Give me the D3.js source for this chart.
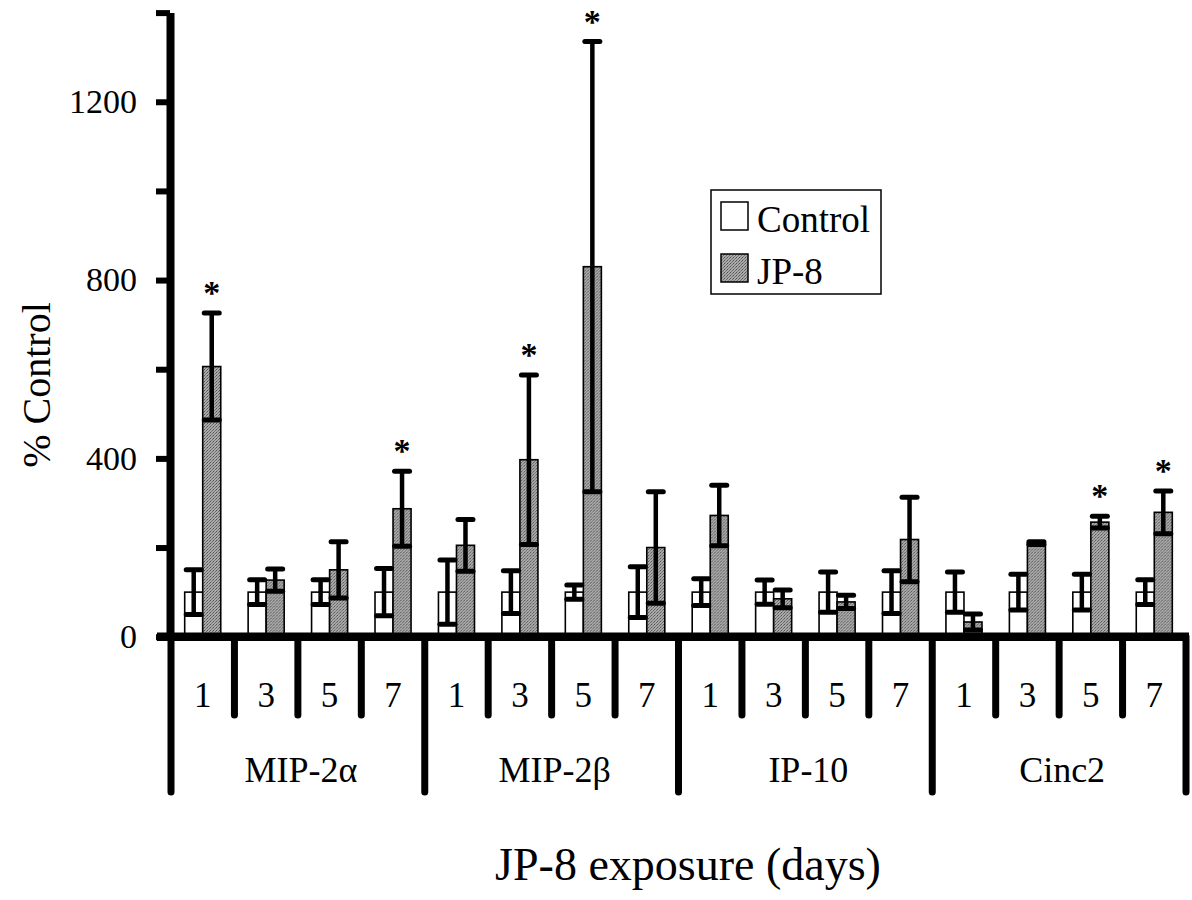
<!DOCTYPE html>
<html>
<head>
<meta charset="utf-8">
<script src="https://cdn.jsdelivr.net/npm/d3@7"></script>
<style>
  body { margin: 0; background: #fff; }
  text { font-family: "Liberation Serif", "Times New Roman", serif; fill: #000; }
</style>
</head>
<body>
<svg id="chart" width="1192" height="900"></svg>
<script>
// chemokine groups and exposure days
var groups = ['MIP-2\u03b1', 'MIP-2\u03b2', 'IP-10', 'Cinc2'];
var days = ['1', '3', '5', '7'];
var seriesNames = ['Control', 'JP-8'];

// % control (16 = 4 groups x 4 days)
var controlMean = [100, 100, 100, 100, 100, 100, 100, 100, 100, 100, 100, 100, 100, 100, 100, 100];
var controlErr  = [50, 28, 28, 53, 72, 48, 16, 57, 30, 27, 45, 48, 45, 40, 40, 28];
var jp8Mean     = [606, 127, 150, 287, 205, 397, 830, 200, 272, 85, 78, 218, 33, 210, 257, 279];
var jp8Err      = [120, 25, 63, 84, 58, 190, 505, 125, 68, 20, 15, 95, 18, 3, 13, 48];
var significant = [1, 0, 0, 1, 0, 1, 1, 0, 0, 0, 0, 0, 0, 0, 1, 1];

var yTicks = [0, 200, 400, 600, 800, 1000, 1200, 1400];

var svg = d3.select('#chart');

// build one row per cell
var cells = [];
groups.forEach(function (g, gi) {
	days.forEach(function (d, di) {
		var i = gi * days.length + di;
		cells.push({
			key: g + '|' + d, group: g, day: d, gi: gi, di: di,
			vals: [
				{ s: 'Control', mean: controlMean[i], err: controlErr[i] },
				{ s: 'JP-8', mean: jp8Mean[i], err: jp8Err[i] }
			],
			star: significant[i] === 1
		});
	});
});

var x0 = d3.scaleBand().domain(cells.map(function (c) { return c.key; }))
	.range([171, 1186]).paddingInner(0).paddingOuter(0);
var x1 = d3.scaleBand().domain(seriesNames).range([0, x0.bandwidth()])
	.paddingInner(0).paddingOuter(0.76);
var y = d3.scaleLinear().domain([0, 1400]).range([636.7, 12.6]);

// stipple fill for the JP-8 bars
var pat = svg.append('defs').append('pattern')
	.attr('id', 'stip').attr('width', 3).attr('height', 3)
	.attr('patternUnits', 'userSpaceOnUse');
pat.append('rect').attr('width', 3).attr('height', 3).attr('fill', '#aaaaaa');
pat.append('rect').attr('x', 0).attr('y', 0).attr('width', 1).attr('height', 1).attr('fill', '#505050');
pat.append('rect').attr('x', 2).attr('y', 1).attr('width', 1).attr('height', 1).attr('fill', '#6a6a6a');
pat.append('rect').attr('x', 1).attr('y', 2).attr('width', 1).attr('height', 1).attr('fill', '#7a7a7a');

var cellG = svg.selectAll('g.cell').data(cells).enter().append('g')
	.attr('class', 'cell')
	.attr('transform', function (c) { return 'translate(' + x0(c.key) + ',0)'; });

cellG.selectAll('rect.bar').data(function (c) { return c.vals; }).enter().append('rect')
	.attr('class', 'bar')
	.attr('x', function (v) { return x1(v.s); })
	.attr('width', x1.bandwidth())
	.attr('y', function (v) { return y(v.mean); })
	.attr('height', function (v) { return y(0) - y(v.mean); })
	.attr('fill', function (v) { return v.s === 'Control' ? '#fff' : 'url(#stip)'; })
	.attr('stroke', '#000').attr('stroke-width', 1.6);

// error bars
var errG = cellG.selectAll('g.err').data(function (c) { return c.vals; }).enter().append('g')
	.attr('class', 'err')
	.attr('transform', function (v) { return 'translate(' + (x1(v.s) + x1.bandwidth() / 2) + ',0)'; });
errG.append('line')
	.attr('y1', function (v) { return y(v.mean + v.err); })
	.attr('y2', function (v) { return y(v.mean - v.err); })
	.attr('stroke', '#000').attr('stroke-width', 4.5);
errG.append('line')
	.attr('x1', -7.5).attr('x2', 7.5)
	.attr('y1', function (v) { return y(v.mean + v.err); })
	.attr('y2', function (v) { return y(v.mean + v.err); })
	.attr('stroke', '#000').attr('stroke-width', 5).attr('stroke-linecap', 'round');
errG.append('line')
	.attr('x1', -7.5).attr('x2', 7.5)
	.attr('y1', function (v) { return y(v.mean - v.err); })
	.attr('y2', function (v) { return y(v.mean - v.err); })
	.attr('stroke', '#000').attr('stroke-width', 5).attr('stroke-linecap', 'round');

// significance stars
cellG.filter(function (c) { return c.star; }).append('text')
	.attr('x', x1('JP-8') + x1.bandwidth() / 2)
	.attr('y', function (c) { return y(c.vals[1].mean + c.vals[1].err) - 9; })
	.attr('text-anchor', 'middle')
	.style('font-size', '34px').style('font-weight', 'bold')
	.text('*');

// y axis
var yAxis = svg.append('g').attr('transform', 'translate(170,0)')
	.call(d3.axisLeft(y).tickValues(yTicks).tickSize(14).tickSizeOuter(0).tickPadding(19)
		.tickFormat(function (d) { return d % 400 === 0 ? d : ''; }));
yAxis.select('.domain').style('stroke', '#000').style('stroke-width', '8px');
yAxis.selectAll('.tick line').style('stroke', '#000').style('stroke-width', '6px');
yAxis.selectAll('.tick text')
	.style('font-family', '"Liberation Serif", "Times New Roman", serif')
	.style('font-size', '34px').style('fill', '#000');

// category table below the baseline
var edges = d3.range(0, cells.length + 1).map(function (k) {
	return { k: k, x: k < cells.length ? x0(cells[k].key) : x0.range()[1] };
});
svg.selectAll('line.sep').data(edges).enter().append('line')
	.attr('class', 'sep')
	.attr('x1', function (e) { return e.x; }).attr('x2', function (e) { return e.x; })
	.attr('y1', y(0))
	.attr('y2', function (e) { return e.k % days.length === 0 ? 792 : 715; })
	.attr('stroke', '#000').attr('stroke-width', 7).attr('stroke-linecap', 'round');

svg.append('line')
	.attr('x1', 157).attr('x2', 1189)
	.attr('y1', y(0)).attr('y2', y(0))
	.attr('stroke', '#000').attr('stroke-width', 8.5);

svg.selectAll('text.day').data(cells).enter().append('text')
	.attr('class', 'day')
	.attr('x', function (c) { return x0(c.key) + x0.bandwidth() / 2; })
	.attr('y', 706.5)
	.attr('text-anchor', 'middle')
	.style('font-size', '35px')
	.text(function (c) { return c.day; });

svg.selectAll('text.grp').data(groups).enter().append('text')
	.attr('class', 'grp')
	.attr('x', function (g, gi) {
		var a = x0(cells[gi * 4].key), b = x0(cells[gi * 4 + 3].key) + x0.bandwidth();
		return (a + b) / 2 + 3;
	})
	.attr('y', 781.5)
	.attr('text-anchor', 'middle')
	.style('font-size', '36px')
	.text(function (g) { return g; });

// axis titles
svg.append('text')
	.attr('transform', 'translate(50,385) rotate(-90)')
	.attr('text-anchor', 'middle')
	.style('font-size', '40px')
	.text('% Control');

svg.append('text')
	.attr('x', 688).attr('y', 880)
	.attr('text-anchor', 'middle')
	.style('font-size', '46px')
	.text('JP-8 exposure (days)');

// legend
var leg = svg.append('g').attr('transform', 'translate(711,190)');
leg.append('rect').attr('width', 170).attr('height', 104)
	.attr('fill', '#fff').attr('stroke', '#000').attr('stroke-width', 1.5);
var legItem = leg.selectAll('g.li').data(seriesNames).enter().append('g')
	.attr('class', 'li')
	.attr('transform', function (s, i) { return 'translate(10,' + (12 + i * 52) + ')'; });
legItem.append('rect').attr('width', 27).attr('height', 28)
	.attr('fill', function (s) { return s === 'Control' ? '#fff' : 'url(#stip)'; })
	.attr('stroke', '#000').attr('stroke-width', 1.5);
legItem.append('text')
	.attr('x', 36).attr('y', 29.5)
	.style('font-size', '37px')
	.text(function (s) { return s; });
</script>
</body>
</html>
